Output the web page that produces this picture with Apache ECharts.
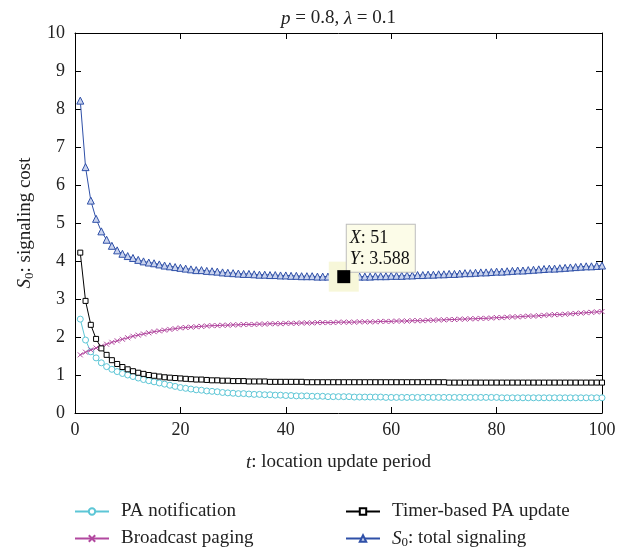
<!DOCTYPE html>
<html>
<head>
<meta charset="utf-8">
<script src="https://cdn.jsdelivr.net/npm/echarts@6/dist/echarts.min.js"></script>
<style>html,body{margin:0;padding:0;background:#fff}#c{width:634px;height:551px}</style>
</head>
<body>
<div id="c"></div>
<script>
// t: location update period (1..100)
const periods = Array.from({length: 100}, (_, i) => i + 1);
const xTicks = [0, 20, 40, 60, 80, 100];
const yTicks = [0, 1, 2, 3, 4, 5, 6, 7, 8, 9, 10];
const seriesNames = ['PA notification', 'Broadcast paging', 'Timer-based PA update', 'S0: total signaling'];

const paNotification = [
  2.47, 1.92, 1.61, 1.45, 1.32, 1.22, 1.15, 1.09, 1.04, 1.00,
  0.96, 0.92, 0.88, 0.85, 0.82, 0.79, 0.76, 0.73, 0.70, 0.67,
  0.65, 0.63, 0.61, 0.60, 0.58, 0.57, 0.56, 0.54, 0.53, 0.52,
  0.51, 0.51, 0.50, 0.49, 0.49, 0.48, 0.48, 0.47, 0.47, 0.46,
  0.46, 0.45, 0.45, 0.45, 0.44, 0.44, 0.44, 0.43, 0.43, 0.43,
  0.43, 0.43, 0.42, 0.42, 0.42, 0.42, 0.42, 0.42, 0.41, 0.41,
  0.41, 0.41, 0.41, 0.41, 0.41, 0.41, 0.41, 0.41, 0.41, 0.41,
  0.41, 0.41, 0.41, 0.41, 0.41, 0.41, 0.41, 0.41, 0.41, 0.41,
  0.40, 0.40, 0.40, 0.40, 0.40, 0.40, 0.40, 0.40, 0.40, 0.40,
  0.40, 0.40, 0.40, 0.40, 0.40, 0.40, 0.40, 0.40, 0.40, 0.40
];
const broadcastPaging = [
  1.53, 1.60, 1.66, 1.71, 1.76, 1.81, 1.86, 1.90, 1.94, 1.98,
  2.02, 2.05, 2.08, 2.11, 2.14, 2.16, 2.18, 2.20, 2.22, 2.24,
  2.25, 2.26, 2.27, 2.28, 2.29, 2.30, 2.30, 2.31, 2.31, 2.32,
  2.32, 2.33, 2.33, 2.33, 2.34, 2.34, 2.35, 2.35, 2.35, 2.36,
  2.36, 2.36, 2.37, 2.37, 2.37, 2.38, 2.38, 2.38, 2.38, 2.39,
  2.39, 2.39, 2.39, 2.40, 2.40, 2.40, 2.40, 2.41, 2.41, 2.41,
  2.42, 2.42, 2.42, 2.43, 2.43, 2.43, 2.44, 2.44, 2.45, 2.45,
  2.46, 2.46, 2.47, 2.47, 2.48, 2.48, 2.49, 2.49, 2.50, 2.51,
  2.51, 2.52, 2.53, 2.53, 2.54, 2.55, 2.55, 2.56, 2.57, 2.58,
  2.59, 2.59, 2.60, 2.61, 2.62, 2.63, 2.64, 2.65, 2.66, 2.67
];
const timerUpdate = [
  4.22, 2.95, 2.32, 1.95, 1.70, 1.53, 1.39, 1.29, 1.21, 1.15,
  1.10, 1.06, 1.03, 1.00, 0.98, 0.96, 0.94, 0.93, 0.92, 0.91,
  0.90, 0.89, 0.88, 0.88, 0.87, 0.86, 0.86, 0.85, 0.85, 0.84,
  0.84, 0.84, 0.83, 0.83, 0.83, 0.83, 0.82, 0.82, 0.82, 0.82,
  0.82, 0.82, 0.82, 0.81, 0.81, 0.81, 0.81, 0.81, 0.81, 0.81,
  0.81, 0.81, 0.81, 0.81, 0.81, 0.81, 0.81, 0.81, 0.81, 0.81,
  0.81, 0.81, 0.81, 0.81, 0.81, 0.81, 0.81, 0.81, 0.81, 0.81,
  0.80, 0.80, 0.80, 0.80, 0.80, 0.80, 0.80, 0.80, 0.80, 0.80,
  0.80, 0.80, 0.80, 0.80, 0.80, 0.80, 0.80, 0.80, 0.80, 0.80,
  0.80, 0.80, 0.80, 0.80, 0.80, 0.80, 0.80, 0.80, 0.80, 0.80
];
const totalSignaling = [
  8.22, 6.47, 5.59, 5.11, 4.78, 4.56, 4.40, 4.28, 4.19, 4.13,
  4.08, 4.03, 3.99, 3.96, 3.94, 3.91, 3.88, 3.86, 3.84, 3.82,
  3.80, 3.78, 3.76, 3.76, 3.74, 3.73, 3.72, 3.70, 3.69, 3.68,
  3.67, 3.66, 3.66, 3.65, 3.64, 3.64, 3.63, 3.63, 3.62, 3.62,
  3.61, 3.61, 3.60, 3.60, 3.60, 3.59, 3.59, 3.59, 3.59, 3.59,
  3.588, 3.59, 3.59, 3.59, 3.59, 3.59, 3.60, 3.60, 3.60, 3.61,
  3.61, 3.61, 3.62, 3.62, 3.63, 3.63, 3.64, 3.64, 3.65, 3.65,
  3.66, 3.66, 3.67, 3.68, 3.68, 3.69, 3.70, 3.70, 3.71, 3.72,
  3.72, 3.73, 3.74, 3.75, 3.75, 3.76, 3.77, 3.78, 3.79, 3.80,
  3.80, 3.81, 3.82, 3.83, 3.84, 3.85, 3.86, 3.86, 3.87, 3.88
];
// data tip
const tipT = 51;
const tipValue = totalSignaling[tipT - 1];

const FONT = 'Liberation Serif';
const pairs = arr => periods.map((t, i) => [t, arr[i]]);

const chart = echarts.init(document.getElementById('c'), null, {renderer: 'canvas'});

const baseAxis = {
  type: 'value',
  axisLine: {show: true, onZero: false, lineStyle: {color: '#000', width: 1}},
  axisTick: {show: true, inside: true, length: 6, lineStyle: {color: '#000'}},
  splitLine: {show: false},
  axisLabel: {color: '#222', fontFamily: FONT, fontSize: 18}
};

const xCommon = Object.assign({}, baseAxis, {min: xTicks[0], max: xTicks[xTicks.length - 1], interval: xTicks[1] - xTicks[0]});
const yCommon = Object.assign({}, baseAxis, {min: yTicks[0], max: yTicks[yTicks.length - 1], interval: yTicks[1] - yTicks[0]});

const crossPath = 'path://M0,0L10,10M10,0L0,10';
const richText = {
  i: {fontStyle: 'italic', fontFamily: FONT, fontSize: 19, color: '#222'},
  sub: {fontFamily: FONT, fontSize: 13, color: '#222', padding: [9, 0, 0, 0]}
};

function legendItem(name, left, top) {
  return {
    data: [name], orient: 'vertical', left: left, top: top,
    itemWidth: 34, itemHeight: 8, selectedMode: false,
    formatter: n => n === seriesNames[3] ? '{i|S}{sub|0}: total signaling' : n,
    textStyle: {fontFamily: FONT, fontSize: 19, color: '#222', padding: [0, 0, 0, 7], rich: richText}
  };
}

chart.setOption({
  animation: false,
  backgroundColor: '#fff',
  grid: {left: 75, right: 32, top: 33, bottom: 138, containLabel: false},
  xAxis: [
    Object.assign({}, xCommon, {
      position: 'bottom',
      axisLabel: Object.assign({}, baseAxis.axisLabel, {margin: 8}),
      name: '{i|t}: location update period',
      nameLocation: 'middle', nameGap: 40,
      nameTextStyle: {color: '#222', fontFamily: FONT, fontSize: 19, rich: richText}
    }),
    Object.assign({}, xCommon, {
      position: 'top',
      axisLabel: {show: false},
      name: '{i|p} = 0.8, {i|λ} = 0.1',
      nameLocation: 'middle', nameGap: 5,
      nameTextStyle: {color: '#222', fontFamily: FONT, fontSize: 19, verticalAlign: 'bottom', rich: richText}
    })
  ],
  yAxis: [
    Object.assign({}, yCommon, {
      position: 'left',
      axisLabel: Object.assign({}, baseAxis.axisLabel, {margin: 10}),
      name: '{i|S}{sub|0}: signaling cost',
      nameLocation: 'middle', nameGap: 32, nameRotate: 90,
      nameTextStyle: {color: '#222', fontFamily: FONT, fontSize: 19, rich: richText}
    }),
    Object.assign({}, yCommon, {position: 'right', axisLabel: {show: false}})
  ],
  legend: [
    legendItem(seriesNames[0], 69, 497),
    legendItem(seriesNames[1], 69, 524),
    legendItem(seriesNames[2], 340, 497),
    legendItem(seriesNames[3], 340, 524)
  ],
  series: [
    {
      name: seriesNames[0], type: 'line', data: pairs(paNotification),
      symbol: 'circle', symbolSize: 6, showAllSymbol: true,
      lineStyle: {color: '#5cc6d6', width: 1},
      itemStyle: {color: '#ffffff', borderColor: '#5cc6d6', borderWidth: 1},
      z: 2
    },
    {
      name: seriesNames[1], type: 'line', data: pairs(broadcastPaging),
      symbol: crossPath, symbolSize: 5, showAllSymbol: true,
      lineStyle: {color: '#b2489f', width: 1},
      itemStyle: {color: '#b2489f', borderColor: '#b2489f', borderWidth: 1},
      z: 3
    },
    {
      name: seriesNames[2], type: 'line', data: pairs(timerUpdate),
      symbol: 'rect', symbolSize: 5, showAllSymbol: true,
      lineStyle: {color: '#000000', width: 1},
      itemStyle: {color: '#ffffff', borderColor: '#000000', borderWidth: 1},
      z: 4
    },
    {
      name: seriesNames[3], type: 'line', data: pairs(totalSignaling),
      symbol: 'triangle', symbolSize: 7, showAllSymbol: true,
      lineStyle: {color: '#2f50a8', width: 1},
      itemStyle: {color: '#c9d3ee', borderColor: '#2f50a8', borderWidth: 1},
      z: 5
    },
    {
      name: 'tipBackground', type: 'scatter', data: [[tipT, tipValue]],
      symbol: 'rect', symbolSize: 30, silent: true, z: 10,
      itemStyle: {color: '#f7f7d9', borderWidth: 0, opacity: 1},
      label: {
        show: true, position: [18, -37],
        formatter: '{i|X}: ' + tipT + '\n{i|Y}: ' + tipValue,
        backgroundColor: '#fcfce8', borderColor: '#bdbdbd', borderWidth: 1,
        padding: [3, 5, 2, 3], lineHeight: 21,
        color: '#111', fontFamily: FONT, fontSize: 18, align: 'left',
        rich: {i: {fontStyle: 'italic', fontFamily: FONT, fontSize: 18, color: '#111', lineHeight: 21}}
      }
    },
    {
      name: 'tipMarker', type: 'scatter', data: [[tipT, tipValue]],
      symbol: 'rect', symbolSize: 13, silent: true, z: 11,
      itemStyle: {color: '#000000', borderWidth: 0, opacity: 1}
    }
  ]
});
</script>
</body>
</html>
